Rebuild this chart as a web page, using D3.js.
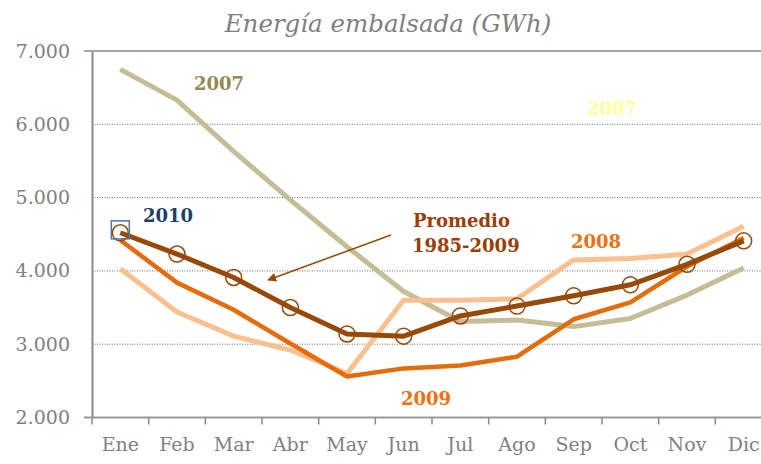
<!DOCTYPE html>
<html>
<head>
<meta charset="utf-8">
<script src="https://cdn.jsdelivr.net/npm/d3@7"></script>
<style>
  body { margin: 0; background: #fff; }
  svg { display: block; font-family: "DejaVu Serif", serif; }
</style>
</head>
<body>
<div id="graph"></div>
<script>
// data (GWh)
var months = ["Ene","Feb","Mar","Abr","May","Jun","Jul","Ago","Sep","Oct","Nov","Dic"];
var serie2007 = [6750, 6330, 5630, 4970, 4330, 3720, 3310, 3330, 3240, 3350, 3670, 4040];
var serie2008 = [4030, 3440, 3110, 2920, 2600, 3600, 3600, 3620, 4150, 4170, 4230, 4610];
var serie2009 = [4420, 3840, 3470, 3010, 2560, 2670, 2710, 2830, 3340, 3570, 4060, 4450];
var promedio  = [4520, 4230, 3910, 3500, 3140, 3110, 3385, 3520, 3660, 3810, 4090, 4410];
var serie2010 = [4560];
var yTicks = [2000, 3000, 4000, 5000, 6000, 7000];

var W = 761, H = 464;
var margin = {left: 92, top: 51, bottom: 46.5};

var svg = d3.select("#graph")
            .append("svg")
            .attr("width", W)
            .attr("height", H);

var x = d3.scaleBand()
          .domain(months)
          .range([margin.left, 772]);
var y = d3.scaleLinear()
          .domain([2000, 7000])
          .range([H - margin.bottom, margin.top]);

var es = d3.formatLocale({decimal: ",", thousands: ".", grouping: [3], currency: ["", "€"]});
var fmt = es.format(",.0f");

// title
svg.append("text")
   .attr("x", 388)
   .attr("y", 32)
   .attr("text-anchor", "middle")
   .style("font-style", "italic")
   .style("font-size", "24.5px")
   .style("fill", "#808080")
   .text("Energía embalsada (GWh)");

// grid lines (dotted) and top line
svg.append("g")
   .selectAll("line")
   .data(yTicks.filter(function(d){ return d > 2000 && d < 7000; }))
   .enter().append("line")
   .attr("x1", margin.left).attr("x2", W)
   .attr("y1", function(d){ return y(d); })
   .attr("y2", function(d){ return y(d); })
   .style("stroke", "#6e6e6e")
   .style("stroke-width", 1)
   .style("stroke-dasharray", "1,1.5");

svg.append("line")
   .attr("x1", margin.left - 8).attr("x2", W)
   .attr("y1", y(7000)).attr("y2", y(7000))
   .style("stroke", "#8a8a8a")
   .style("stroke-width", 1.5);

// y axis
var yAxis = d3.axisLeft(y)
              .tickValues(yTicks)
              .tickFormat(fmt)
              .tickSize(0)
              .tickPadding(22);
var gy = svg.append("g")
   .attr("transform", "translate(" + margin.left + ",0)")
   .call(yAxis);
gy.select(".domain").style("stroke", "#8a8a8a").style("stroke-width", 2);
gy.selectAll("text")
  .style("font-size", "19px")
  .style("fill", "#808080")
  .style("font-family", "DejaVu Serif, serif");

// bottom axis
var xAxis = d3.axisBottom(x).tickSize(0).tickPadding(20);
var gx = svg.append("g")
   .attr("transform", "translate(0," + y(2000) + ")")
   .call(xAxis);
gx.select(".domain").remove();
gx.selectAll("text")
  .style("font-size", "19px")
  .style("fill", "#808080")
  .style("font-family", "DejaVu Serif, serif");

svg.append("line")
   .attr("x1", margin.left - 8).attr("x2", W)
   .attr("y1", y(2000)).attr("y2", y(2000))
   .style("stroke", "#9a9a9a")
   .style("stroke-width", 2);

// tick marks between months
svg.append("g")
   .selectAll("line")
   .data(months)
   .enter().append("line")
   .attr("x1", function(d){ return x(d); })
   .attr("x2", function(d){ return x(d); })
   .attr("y1", y(2000))
   .attr("y2", y(2000) + 7)
   .style("stroke", "#8a8a8a")
   .style("stroke-width", 1.5);

var line = d3.line()
             .x(function(d, i){ return x(months[i]) + x.bandwidth() / 2; })
             .y(function(d){ return y(d); });

function drawLine(values, color, width) {
    svg.append("path")
       .datum(values)
       .attr("d", line)
       .style("fill", "none")
       .style("stroke", color)
       .style("stroke-width", width)
       .style("stroke-linejoin", "round");
}

drawLine(serie2007, "#c4bd97", 5);
drawLine(serie2008, "#fac090", 5);
drawLine(serie2009, "#e46c0a", 4.5);
drawLine(promedio, "#984807", 5);

// promedio markers
svg.append("g")
   .selectAll("circle")
   .data(promedio)
   .enter().append("circle")
   .attr("cx", function(d, i){ return x(months[i]) + x.bandwidth() / 2; })
   .attr("cy", function(d){ return y(d); })
   .attr("r", 8)
   .style("fill", "none")
   .style("stroke", "#984807")
   .style("stroke-width", 1.5);

// 2010 marker
svg.append("g")
   .selectAll("rect")
   .data(serie2010)
   .enter().append("rect")
   .attr("x", function(d, i){ return x(months[i]) + x.bandwidth() / 2 - 9; })
   .attr("y", function(d){ return y(d) - 9; })
   .attr("width", 18)
   .attr("height", 18)
   .style("fill", "none")
   .style("stroke", "#4f73a6")
   .style("stroke-width", 1.5);

// arrow
svg.append("defs").append("marker")
   .attr("id", "head")
   .attr("viewBox", "0 0 10 10")
   .attr("refX", 9).attr("refY", 5)
   .attr("markerWidth", 9).attr("markerHeight", 9)
   .attr("markerUnits", "userSpaceOnUse")
   .attr("orient", "auto")
   .append("path")
   .attr("d", "M0,0 L10,5 L0,10 z")
   .style("fill", "#984807");
svg.append("line")
   .attr("x1", 391).attr("y1", 235)
   .attr("x2", 268).attr("y2", 280)
   .style("stroke", "#984807")
   .style("stroke-width", 1.5)
   .attr("marker-end", "url(#head)");

// labels
var labels = [
    {t: "2007", x: 194, y: 90, c: "#948a54"},
    {t: "2007", x: 587, y: 115, c: "#ffff99"},
    {t: "2010", x: 143, y: 222, c: "#1f3f6a"},
    {t: "Promedio", x: 413, y: 227, c: "#9b3d06"},
    {t: "1985-2009", x: 412, y: 252, c: "#9b3d06"},
    {t: "2008", x: 571, y: 248, c: "#f0700f"},
    {t: "2009", x: 401, y: 405, c: "#f0700f"}
];
svg.append("g")
   .selectAll("text")
   .data(labels)
   .enter().append("text")
   .attr("x", function(d){ return d.x; })
   .attr("y", function(d){ return d.y; })
   .style("font-weight", "bold")
   .style("font-size", "18px")
   .style("fill", function(d){ return d.c; })
   .text(function(d){ return d.t; });
</script>
</body>
</html>
